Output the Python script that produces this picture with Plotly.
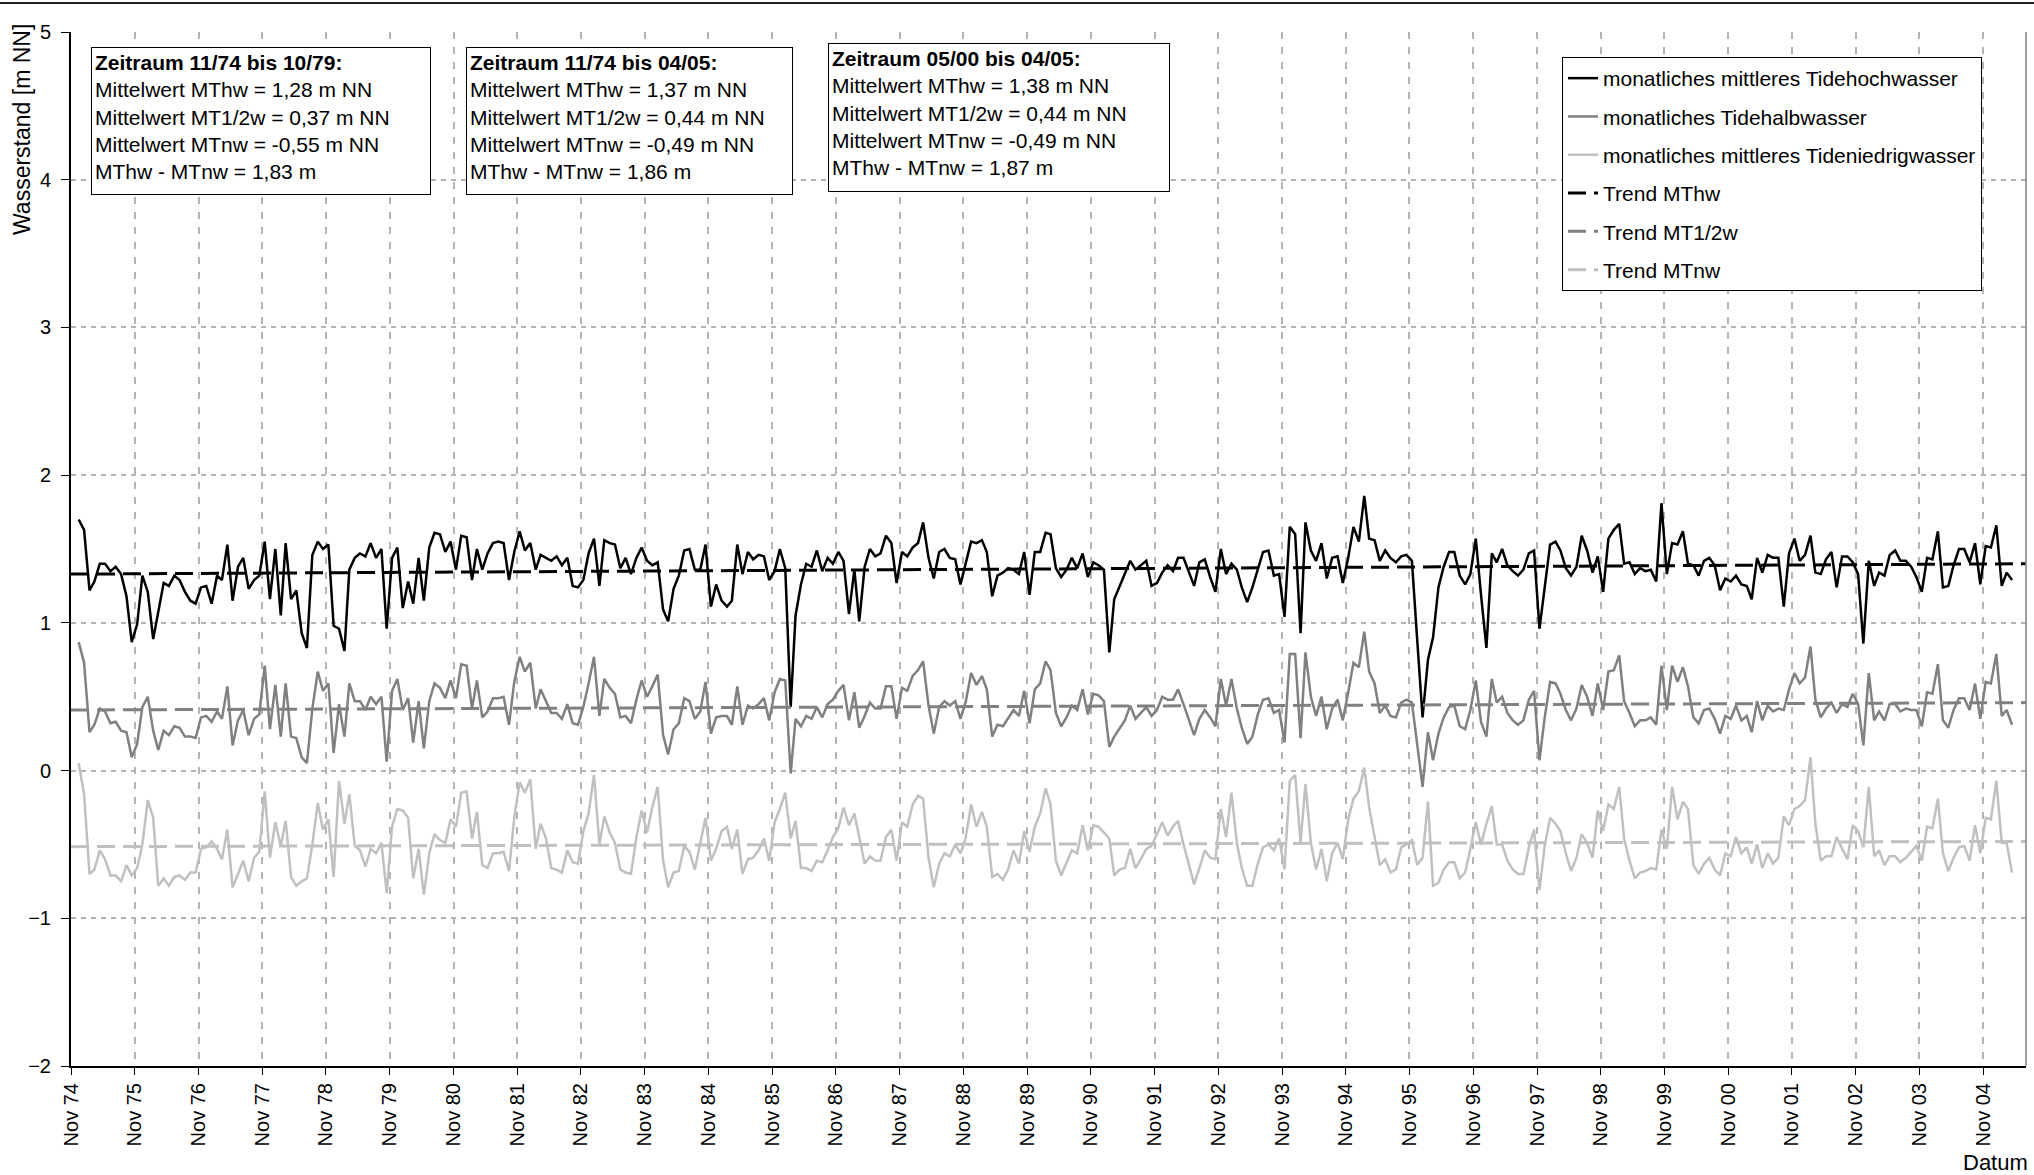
import plotly.graph_objects as go

# ---------------- data ----------------
# monthly points, Dec 1974 .. Apr 2005 (mid-month positions)
dates = []
_y, _m = 1974, 12
for _i in range(365):
    dates.append(f"{_y}-{_m:02d}-15")
    _m += 1
    if _m > 12:
        _m = 1
        _y += 1

mthw = [
    1.70, 1.63, 1.22, 1.28, 1.40, 1.40, 1.35, 1.38, 1.33, 1.18,
    0.87, 0.99, 1.32, 1.21, 0.89, 1.08, 1.27, 1.25, 1.32, 1.29,
    1.21, 1.15, 1.13, 1.24, 1.25, 1.13, 1.32, 1.29, 1.53, 1.15,
    1.38, 1.44, 1.23, 1.29, 1.32, 1.55, 1.16, 1.50, 1.05, 1.54,
    1.16, 1.22, 0.93, 0.83, 1.46, 1.55, 1.50, 1.53, 0.98, 0.96,
    0.81, 1.36, 1.44, 1.47, 1.45, 1.54, 1.44, 1.50, 0.96, 1.44,
    1.51, 1.10, 1.28, 1.13, 1.44, 1.15, 1.51, 1.61, 1.60, 1.48,
    1.55, 1.36, 1.59, 1.58, 1.29, 1.50, 1.36, 1.47, 1.54, 1.55,
    1.54, 1.29, 1.48, 1.62, 1.49, 1.54, 1.36, 1.46, 1.44, 1.42,
    1.45, 1.39, 1.44, 1.25, 1.24, 1.29, 1.47, 1.57, 1.25, 1.56,
    1.54, 1.53, 1.37, 1.44, 1.33, 1.44, 1.51, 1.42, 1.39, 1.41,
    1.09, 1.01, 1.23, 1.32, 1.49, 1.50, 1.36, 1.36, 1.53, 1.11,
    1.26, 1.15, 1.11, 1.15, 1.53, 1.33, 1.48, 1.43, 1.46, 1.45,
    1.29, 1.35, 1.50, 1.37, 0.43, 1.05, 1.26, 1.40, 1.38, 1.49,
    1.35, 1.44, 1.40, 1.48, 1.42, 1.06, 1.36, 1.01, 1.38, 1.50,
    1.45, 1.47, 1.59, 1.54, 1.27, 1.48, 1.45, 1.51, 1.54, 1.68,
    1.44, 1.30, 1.48, 1.50, 1.44, 1.43, 1.26, 1.41, 1.55, 1.54,
    1.56, 1.48, 1.18, 1.32, 1.34, 1.37, 1.36, 1.33, 1.48, 1.19,
    1.48, 1.48, 1.61, 1.60, 1.37, 1.31, 1.36, 1.44, 1.37, 1.47,
    1.31, 1.41, 1.39, 1.36, 0.80, 1.16, 1.25, 1.33, 1.42, 1.36,
    1.39, 1.42, 1.25, 1.27, 1.34, 1.39, 1.35, 1.44, 1.44, 1.34,
    1.25, 1.41, 1.43, 1.31, 1.21, 1.50, 1.33, 1.40, 1.36, 1.24,
    1.14, 1.24, 1.37, 1.48, 1.49, 1.32, 1.33, 1.04, 1.65, 1.60,
    0.93, 1.68, 1.49, 1.42, 1.54, 1.30, 1.44, 1.45, 1.27, 1.44,
    1.65, 1.55, 1.86, 1.57, 1.56, 1.42, 1.49, 1.44, 1.41, 1.45,
    1.46, 1.42, 0.89, 0.36, 0.75, 0.90, 1.24, 1.38, 1.48, 1.48,
    1.32, 1.26, 1.33, 1.57, 1.19, 0.83, 1.47, 1.41, 1.50, 1.39,
    1.35, 1.32, 1.36, 1.47, 1.49, 0.96, 1.24, 1.53, 1.55, 1.49,
    1.37, 1.32, 1.38, 1.59, 1.49, 1.34, 1.45, 1.21, 1.57, 1.63,
    1.67, 1.40, 1.41, 1.33, 1.37, 1.35, 1.36, 1.28, 1.81, 1.33,
    1.54, 1.53, 1.62, 1.40, 1.39, 1.32, 1.42, 1.44, 1.39, 1.22,
    1.30, 1.28, 1.32, 1.26, 1.25, 1.16, 1.44, 1.34, 1.46, 1.44,
    1.44, 1.11, 1.47, 1.57, 1.42, 1.46, 1.59, 1.34, 1.33, 1.43,
    1.48, 1.24, 1.45, 1.45, 1.41, 1.33, 0.86, 1.42, 1.25, 1.34,
    1.32, 1.46, 1.49, 1.42, 1.42, 1.38, 1.31, 1.21, 1.44, 1.43,
    1.62, 1.24, 1.25, 1.39, 1.50, 1.50, 1.41, 1.54, 1.26, 1.52,
    1.51, 1.66, 1.25, 1.34, 1.29,
]

mt12w = [
    0.87, 0.73, 0.26, 0.31, 0.42, 0.40, 0.32, 0.33, 0.27, 0.26,
    0.09, 0.18, 0.43, 0.50, 0.27, 0.14, 0.27, 0.24, 0.30, 0.29,
    0.23, 0.23, 0.22, 0.36, 0.37, 0.33, 0.40, 0.35, 0.57, 0.17,
    0.34, 0.41, 0.24, 0.35, 0.38, 0.71, 0.28, 0.58, 0.23, 0.59,
    0.23, 0.22, 0.09, 0.05, 0.42, 0.67, 0.54, 0.59, 0.12, 0.45,
    0.23, 0.59, 0.47, 0.47, 0.41, 0.50, 0.45, 0.50, 0.06, 0.54,
    0.62, 0.41, 0.49, 0.19, 0.47, 0.15, 0.47, 0.59, 0.56, 0.49,
    0.61, 0.49, 0.72, 0.71, 0.42, 0.61, 0.36, 0.40, 0.49, 0.49,
    0.50, 0.31, 0.60, 0.77, 0.67, 0.73, 0.42, 0.55, 0.47, 0.39,
    0.39, 0.35, 0.45, 0.32, 0.31, 0.43, 0.59, 0.77, 0.37, 0.62,
    0.56, 0.52, 0.36, 0.37, 0.32, 0.48, 0.61, 0.50, 0.57, 0.65,
    0.24, 0.11, 0.28, 0.32, 0.49, 0.47, 0.35, 0.40, 0.60, 0.25,
    0.36, 0.37, 0.37, 0.31, 0.57, 0.31, 0.44, 0.42, 0.45, 0.49,
    0.34, 0.53, 0.62, 0.61, -0.02, 0.35, 0.30, 0.37, 0.35, 0.43,
    0.36, 0.45, 0.48, 0.54, 0.58, 0.34, 0.53, 0.29, 0.37, 0.46,
    0.42, 0.42, 0.57, 0.57, 0.35, 0.56, 0.54, 0.64, 0.68, 0.74,
    0.44, 0.25, 0.43, 0.47, 0.44, 0.47, 0.35, 0.47, 0.66, 0.58,
    0.64, 0.55, 0.23, 0.31, 0.30, 0.35, 0.41, 0.37, 0.54, 0.32,
    0.55, 0.59, 0.74, 0.68, 0.39, 0.30, 0.36, 0.44, 0.41, 0.55,
    0.38, 0.52, 0.51, 0.47, 0.16, 0.23, 0.29, 0.34, 0.44, 0.35,
    0.39, 0.43, 0.37, 0.41, 0.50, 0.48, 0.48, 0.55, 0.45, 0.35,
    0.24, 0.35, 0.41, 0.36, 0.30, 0.62, 0.44, 0.62, 0.42, 0.29,
    0.18, 0.23, 0.38, 0.48, 0.49, 0.39, 0.41, 0.19, 0.79, 0.79,
    0.22, 0.80, 0.50, 0.37, 0.50, 0.28, 0.42, 0.48, 0.34, 0.53,
    0.73, 0.70, 0.94, 0.67, 0.59, 0.39, 0.44, 0.37, 0.36, 0.46,
    0.48, 0.46, 0.18, -0.11, 0.26, 0.07, 0.25, 0.36, 0.43, 0.44,
    0.30, 0.28, 0.41, 0.61, 0.33, 0.23, 0.62, 0.46, 0.50, 0.39,
    0.34, 0.31, 0.34, 0.48, 0.54, 0.07, 0.36, 0.60, 0.59, 0.52,
    0.41, 0.34, 0.42, 0.58, 0.50, 0.37, 0.59, 0.41, 0.67, 0.68,
    0.78, 0.47, 0.39, 0.30, 0.34, 0.34, 0.36, 0.31, 0.71, 0.41,
    0.71, 0.60, 0.70, 0.57, 0.36, 0.32, 0.41, 0.42, 0.35, 0.25,
    0.37, 0.35, 0.44, 0.34, 0.37, 0.26, 0.47, 0.34, 0.44, 0.40,
    0.42, 0.41, 0.55, 0.66, 0.59, 0.63, 0.84, 0.48, 0.36, 0.42,
    0.46, 0.39, 0.45, 0.43, 0.52, 0.45, 0.17, 0.66, 0.34, 0.40,
    0.34, 0.45, 0.45, 0.40, 0.42, 0.41, 0.41, 0.30, 0.53, 0.52,
    0.72, 0.34, 0.29, 0.41, 0.49, 0.49, 0.41, 0.59, 0.35, 0.60,
    0.59, 0.79, 0.37, 0.41, 0.31,
]

mtnw = [
    0.05, -0.16, -0.70, -0.67, -0.54, -0.60, -0.71, -0.71, -0.75, -0.64,
    -0.71, -0.66, -0.50, -0.20, -0.32, -0.78, -0.73, -0.78, -0.72, -0.71,
    -0.74, -0.69, -0.69, -0.53, -0.52, -0.48, -0.53, -0.60, -0.40, -0.79,
    -0.70, -0.61, -0.75, -0.59, -0.55, -0.14, -0.59, -0.35, -0.51, -0.34,
    -0.72, -0.78, -0.75, -0.73, -0.50, -0.22, -0.40, -0.33, -0.72, -0.07,
    -0.36, -0.16, -0.51, -0.54, -0.65, -0.53, -0.56, -0.49, -0.83, -0.38,
    -0.26, -0.27, -0.32, -0.73, -0.53, -0.84, -0.56, -0.43, -0.47, -0.49,
    -0.33, -0.38, -0.15, -0.14, -0.46, -0.28, -0.64, -0.66, -0.56, -0.56,
    -0.55, -0.68, -0.32, -0.08, -0.15, -0.06, -0.53, -0.36, -0.46, -0.66,
    -0.67, -0.69, -0.54, -0.62, -0.63, -0.41, -0.29, -0.03, -0.50, -0.31,
    -0.42, -0.49, -0.67, -0.69, -0.70, -0.45, -0.27, -0.42, -0.25, -0.11,
    -0.61, -0.79, -0.69, -0.68, -0.51, -0.55, -0.67, -0.49, -0.32, -0.61,
    -0.53, -0.41, -0.38, -0.53, -0.40, -0.70, -0.60, -0.59, -0.54, -0.46,
    -0.61, -0.35, -0.26, -0.15, -0.46, -0.34, -0.66, -0.66, -0.68, -0.61,
    -0.62, -0.54, -0.45, -0.39, -0.25, -0.37, -0.29, -0.45, -0.63, -0.58,
    -0.61, -0.61, -0.45, -0.40, -0.61, -0.35, -0.38, -0.23, -0.17, -0.19,
    -0.59, -0.79, -0.63, -0.56, -0.58, -0.50, -0.56, -0.45, -0.23, -0.38,
    -0.28, -0.38, -0.72, -0.70, -0.74, -0.67, -0.54, -0.63, -0.41, -0.55,
    -0.38, -0.29, -0.12, -0.23, -0.61, -0.71, -0.62, -0.54, -0.56, -0.37,
    -0.54, -0.37, -0.38, -0.42, -0.46, -0.71, -0.67, -0.66, -0.53, -0.66,
    -0.60, -0.53, -0.51, -0.43, -0.35, -0.44, -0.38, -0.34, -0.50, -0.63,
    -0.77, -0.66, -0.54, -0.59, -0.60, -0.26, -0.45, -0.15, -0.49, -0.66,
    -0.78, -0.78, -0.63, -0.52, -0.50, -0.54, -0.46, -0.67, -0.07, -0.03,
    -0.49, -0.09, -0.49, -0.67, -0.53, -0.75, -0.56, -0.49, -0.60, -0.33,
    -0.19, -0.14, 0.02, -0.25, -0.44, -0.64, -0.60, -0.69, -0.67, -0.52,
    -0.50, -0.47, -0.64, -0.59, -0.21, -0.78, -0.76, -0.67, -0.62, -0.62,
    -0.73, -0.69, -0.53, -0.35, -0.50, -0.36, -0.24, -0.50, -0.50, -0.61,
    -0.67, -0.70, -0.70, -0.52, -0.40, -0.81, -0.51, -0.32, -0.36, -0.41,
    -0.56, -0.68, -0.59, -0.43, -0.49, -0.59, -0.27, -0.41, -0.23, -0.26,
    -0.11, -0.46, -0.61, -0.73, -0.69, -0.68, -0.66, -0.67, -0.40, -0.53,
    -0.11, -0.33, -0.21, -0.26, -0.64, -0.70, -0.63, -0.59, -0.67, -0.71,
    -0.56, -0.58, -0.45, -0.56, -0.52, -0.63, -0.50, -0.66, -0.56, -0.63,
    -0.59, -0.31, -0.37, -0.26, -0.24, -0.20, 0.09, -0.36, -0.61, -0.58,
    -0.58, -0.45, -0.53, -0.60, -0.37, -0.41, -0.52, -0.11, -0.58, -0.54,
    -0.64, -0.58, -0.58, -0.62, -0.59, -0.55, -0.51, -0.61, -0.38, -0.39,
    -0.19, -0.56, -0.68, -0.59, -0.52, -0.51, -0.61, -0.37, -0.56, -0.32,
    -0.33, -0.07, -0.49, -0.49, -0.69,
]

# linear trends (values at the start and end of the time axis)
trend_x = ["1974-11-01", "2005-07-04"]
trend_mthw = [1.33, 1.40]
trend_mt12w = [0.41, 0.46]
trend_mtnw = [-0.515, -0.48]

names = [
    "monatliches mittleres Tidehochwasser",
    "monatliches Tidehalbwasser",
    "monatliches mittleres Tideniedrigwasser",
    "Trend MThw",
    "Trend MT1/2w",
    "Trend MTnw",
]

box_texts = [
    "<b>Zeitraum 11/74 bis 10/79:</b><br>Mittelwert MThw = 1,28 m NN<br>"
    "Mittelwert MT1/2w = 0,37 m NN<br>Mittelwert MTnw = -0,55 m NN<br>MThw - MTnw = 1,83 m",
    "<b>Zeitraum 11/74 bis 04/05:</b><br>Mittelwert MThw = 1,37 m NN<br>"
    "Mittelwert MT1/2w = 0,44 m NN<br>Mittelwert MTnw = -0,49 m NN<br>MThw - MTnw = 1,86 m",
    "<b>Zeitraum 05/00 bis 04/05:</b><br>Mittelwert MThw = 1,38 m NN<br>"
    "Mittelwert MT1/2w = 0,44 m NN<br>Mittelwert MTnw = -0,49 m NN<br>MThw - MTnw = 1,87 m",
]

# ---------------- figure ----------------
FONT = "Liberation Sans, Arial, Helvetica, sans-serif"
W, H = 2034, 1175
ML, MR, MT, MB = 71, 8, 32, 109
PW, PH = W - ML - MR, H - MT - MB


def px_x(p):
    return (p - ML) / PW


def px_y(p):
    return (H - MB - p) / PH


fig = go.Figure()

series = [
    (mthw, "#000000"),
    (mt12w, "#808080"),
    (mtnw, "#c0c0c0"),
]
for i, (vals, col) in enumerate(series):
    fig.add_trace(go.Scatter(
        x=dates, y=vals, mode="lines", name=names[i],
        line=dict(color=col, width=2.5), legendgroup=str(i),
    ))

trends = [
    (trend_mthw, "#000000"),
    (trend_mt12w, "#808080"),
    (trend_mtnw, "#c0c0c0"),
]
for j, (vals, col) in enumerate(trends):
    fig.add_trace(go.Scatter(
        x=trend_x, y=vals, mode="lines", name=names[3 + j],
        line=dict(color=col, width=3, dash="18px,8px"), legendgroup=str(3 + j),
    ))

annotations = []
boxes = [(91, 47, 340, 148), (466, 47, 327, 148), (828, 43, 342, 149)]
PAD = 3
for (bx, by, bw, bh), txt in zip(boxes, box_texts):
    annotations.append(dict(
        xref="paper", yref="paper", x=px_x(bx), y=px_y(by),
        xanchor="left", yanchor="top", text=txt, showarrow=False,
        align="left", valign="top", width=bw - 2 * (PAD + 1), height=bh - 2 * (PAD + 1),
        bordercolor="#000000", borderwidth=1, borderpad=PAD, bgcolor="#ffffff",
        font=dict(family=FONT, size=21, color="#000000"),
    ))
annotations.append(dict(
    xref="paper", yref="paper", x=px_x(22), y=px_y(130),
    xanchor="center", yanchor="middle", text="Wasserstand [m NN]",
    textangle=-90, showarrow=False,
    font=dict(family=FONT, size=23, color="#000000"),
))
annotations.append(dict(
    xref="paper", yref="paper", x=px_x(2030), y=px_y(1162),
    xanchor="right", yanchor="middle", text="Datum", showarrow=False,
    font=dict(family=FONT, size=22, color="#000000"),
))

shapes = [
    dict(type="line", xref="paper", yref="paper", x0=px_x(0), x1=px_x(W),
         y0=px_y(3), y1=px_y(3), line=dict(color="#202020", width=2)),
    dict(type="line", xref="paper", yref="paper", x0=1, x1=1, y0=0, y1=1,
         line=dict(color="#808080", width=1.5)),
]

fig.update_layout(
    width=W, height=H, autosize=False,
    margin=dict(l=ML, r=MR, t=MT, b=MB),
    paper_bgcolor="#ffffff", plot_bgcolor="#ffffff",
    font=dict(family=FONT, size=20, color="#000000"),
    showlegend=True,
    legend=dict(
        x=px_x(1562), y=px_y(57), xanchor="left", yanchor="top",
        bgcolor="#ffffff", bordercolor="#000000", borderwidth=1,
        font=dict(family=FONT, size=21, color="#000000"),
        tracegroupgap=8, traceorder="grouped",
    ),
    annotations=annotations,
    shapes=shapes,
    xaxis=dict(
        type="date", range=["1974-11-01", "2005-07-04"],
        tick0="1974-11-01", dtick="M12", tickformat="%b %y",
        tickangle=-90, ticks="outside", ticklen=7, tickcolor="#000000",
        tickfont=dict(family=FONT, size=20, color="#000000"),
        showline=True, linecolor="#000000", linewidth=2,
        showgrid=True, gridcolor="#b4b4b4", gridwidth=2, griddash="7px,8px",
        zeroline=False,
    ),
    yaxis=dict(
        range=[-2, 5], tick0=-2, dtick=1,
        ticks="outside", ticklen=8, tickcolor="#000000",
        tickfont=dict(family=FONT, size=20, color="#000000"),
        ticklabelstandoff=6,
        showline=True, linecolor="#000000", linewidth=2,
        showgrid=True, gridcolor="#b4b4b4", gridwidth=2, griddash="5px,5px",
        zeroline=False,
    ),
)

fig.write_html(
    "out.html",
    config={"displayModeBar": False},
    post_script="document.body.style.margin='0px';document.body.style.overflow='hidden';",
)
